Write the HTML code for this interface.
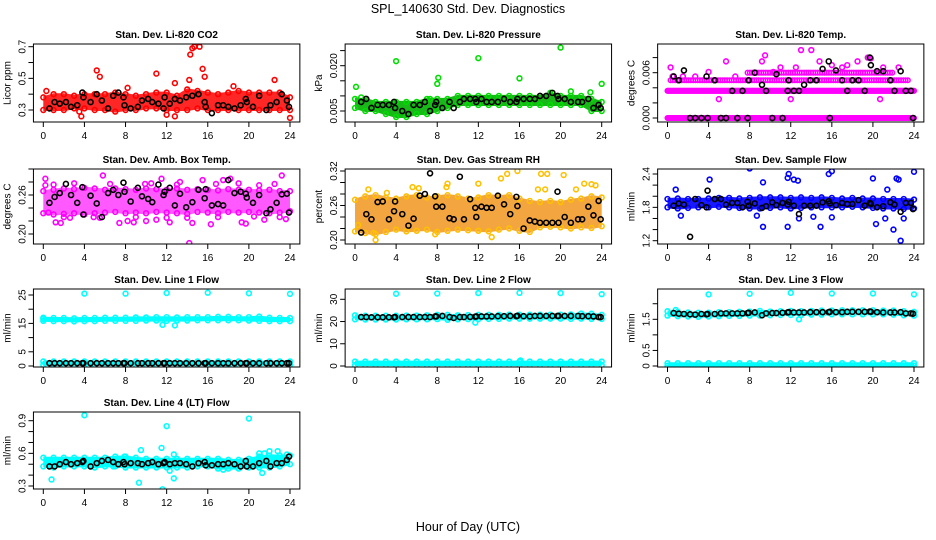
<!DOCTYPE html>
<html><head><meta charset="utf-8"><style>
html,body{margin:0;padding:0;background:#fff;}
svg{display:block;font-family:"Liberation Sans",sans-serif;}
</style></head><body>
<svg id="chart" width="936" height="540" viewBox="0 0 936 540">
<text x="468" y="13" text-anchor="middle" font-size="12.5">SPL_140630  Std. Dev. Diagnostics</text>
<text x="468" y="531" text-anchor="middle" font-size="12.5">Hour of Day (UTC)</text>
</svg>
<script>
// ---- data ----
const bandHours = [0,1,2,3,4,5,6,7,8,9,10,11,12,13,14,15,16,17,18,19,20,21,22,23,24];
const blackHours = [0.6,1.1,1.6,2.2,2.7,3.3,3.8,3.9,4.6,5.2,5.7,6.3,6.8,7.3,7.8,7.9,8.5,9.2,9.6,10.2,10.6,11.2,11.7,11.8,12.3,12.8,13.3,13.9,14.5,15.1,15.7,15.8,16.4,17.0,17.5,18.0,18.6,19.2,19.7,19.8,20.4,21.0,21.7,22.1,22.7,23.2,23.7,23.9];

const co2Lo = [0.30,0.30,0.30,0.31,0.31,0.30,0.30,0.29,0.30,0.30,0.31,0.31,0.30,0.30,0.30,0.31,0.30,0.30,0.30,0.30,0.30,0.30,0.30,0.30,0.30];
const co2Hi = [0.38,0.40,0.40,0.39,0.40,0.40,0.40,0.41,0.40,0.39,0.40,0.41,0.41,0.39,0.43,0.42,0.41,0.40,0.41,0.42,0.41,0.41,0.41,0.41,0.38];
const co2OutX = [5.2,5.5,11,12.8,14.3,14.5,14.7,15.2,15.5,15.7,14.2,22.5,3.7,24,12,12.8,18.5,8.2,0.3,3.5];
const co2OutY = [0.55,0.51,0.53,0.47,0.65,0.69,0.70,0.70,0.56,0.51,0.49,0.49,0.26,0.25,0.27,0.26,0.45,0.44,0.42,0.29];
const co2Black = [0.31,0.35,0.34,0.35,0.32,0.33,0.41,0.38,0.35,0.40,0.36,0.31,0.39,0.41,0.38,0.33,0.31,0.32,0.36,0.37,0.35,0.34,0.31,0.38,0.34,0.37,0.36,0.38,0.39,0.40,0.35,0.32,0.28,0.33,0.33,0.32,0.31,0.33,0.37,0.35,0.32,0.39,0.30,0.33,0.35,0.40,0.36,0.32];

const presLo = [0.006,0.005,0.005,0.004,0.003,0.003,0.004,0.004,0.005,0.006,0.007,0.007,0.007,0.007,0.007,0.007,0.007,0.007,0.007,0.007,0.007,0.007,0.007,0.005,0.005];
const presHi = [0.009,0.009,0.008,0.008,0.008,0.008,0.008,0.009,0.009,0.009,0.010,0.010,0.010,0.010,0.010,0.010,0.010,0.010,0.010,0.011,0.010,0.010,0.010,0.009,0.008];
const presOutX = [4,12,20,8.1,8,16,24,0.1,22.9,21,7.3,0.6];
const presOutY = [0.0215,0.0225,0.0260,0.0160,0.0140,0.0158,0.0140,0.0130,0.0112,0.0115,0.0090,0.0095];
const presBlack = [0.008,0.009,0.006,0.007,0.007,0.007,0.008,0.006,0.005,0.004,0.007,0.007,0.008,0.005,0.007,0.008,0.006,0.008,0.006,0.008,0.009,0.009,0.009,0.008,0.009,0.008,0.008,0.008,0.009,0.008,0.008,0.009,0.009,0.009,0.009,0.010,0.010,0.011,0.010,0.009,0.009,0.008,0.008,0.008,0.009,0.006,0.007,0.006];

const tempRowVal = [0,0.0036,0.0050,0.0060];
const tempRowStart = [0,0,0.3,7.8];
const tempRowEnd = [24,24,23.5,22];
const tempOutX = [0.3,5.7,9.2,9.5,13,14,14.8,19.5,19.8,5,12,20.7,0.5,4,1.5,11,12.5,17,17.5,18.5,16,21,22.5,6.6,10.3,2.7];
const tempOutY = [0.0067,0.0075,0.0075,0.0083,0.0090,0.0090,0.0075,0.0080,0.0079,0.0025,0.0025,0.0025,0.0055,0.0061,0.0055,0.0067,0.0067,0.0067,0.0070,0.0075,0.0070,0.0067,0.0067,0.0055,0.0061,0.0055];
const tempBlack = [0.0055,0.0050,0.0063,0,0,0,0.0055,0,0.0050,0,0,0.0036,0,0.0036,0,0.0050,0.0060,0.0044,0.0036,0,0.0058,0,0.0036,0.0050,0.0036,0.0036,0.0044,0.0050,0.0050,0.0065,0.0075,0,0.0063,0.0050,0.0036,0.0050,0.0050,0.0036,0.0080,0.0070,0.0062,0.0062,0.0050,0.0036,0.0062,0.0036,0.0036,0];

const ambLo = [0.232,0.230,0.231,0.232,0.230,0.232,0.233,0.234,0.232,0.233,0.232,0.234,0.233,0.232,0.231,0.234,0.233,0.232,0.234,0.233,0.234,0.233,0.232,0.233,0.235];
const ambHi = [0.266,0.268,0.270,0.269,0.271,0.270,0.268,0.270,0.269,0.268,0.270,0.269,0.268,0.270,0.268,0.269,0.268,0.267,0.269,0.268,0.268,0.267,0.268,0.266,0.266];
const ambOutX = [0.2,0.2,0.5,1.2,1.7,2.6,5.8,7.4,8.2,8.8,10,11,11.5,12.3,12,13.3,14.2,14.5,16.3,18.2,19.3,19.7,21.5,23.2,23.6,21,15.5,17.5,4.9,9.9,1.0,3.0,6.5,10.5,13.0,16.8,19.0,22.5,2.0,5.5,9.0,14.0,17.0,20.5,23.0];
const ambOutY = [0.285,0.275,0.233,0.218,0.217,0.225,0.290,0.217,0.220,0.218,0.220,0.222,0.285,0.218,0.225,0.280,0.186,0.217,0.215,0.285,0.218,0.216,0.222,0.290,0.223,0.275,0.283,0.283,0.226,0.277,0.276,0.278,0.277,0.278,0.276,0.277,0.278,0.277,0.226,0.225,0.226,0.225,0.226,0.227,0.226];
const ambBlack = [0.248,0.257,0.263,0.277,0.260,0.248,0.272,0.230,0.259,0.247,0.226,0.263,0.268,0.260,0.279,0.265,0.250,0.271,0.258,0.254,0.249,0.276,0.260,0.265,0.271,0.244,0.262,0.241,0.249,0.268,0.255,0.269,0.244,0.246,0.244,0.283,0.263,0.265,0.262,0.256,0.248,0.260,0.232,0.238,0.248,0.261,0.262,0.233];

const rhLo = [0.215,0.212,0.210,0.214,0.218,0.215,0.216,0.218,0.214,0.216,0.218,0.217,0.216,0.215,0.218,0.220,0.216,0.214,0.222,0.223,0.222,0.220,0.222,0.221,0.224];
const rhHi = [0.270,0.276,0.278,0.274,0.272,0.276,0.278,0.274,0.276,0.278,0.276,0.272,0.274,0.278,0.276,0.278,0.272,0.268,0.266,0.268,0.266,0.270,0.272,0.276,0.274];
const rhOutX = [2,7.8,13.3,15.8,18.1,18.7,20.3,14.2,14.8,9,8.9,12,22.3,23,23.4,1.3,5.6,6.2,17.8,18.5,21.5,0.3,3.1,1.8];
const rhOutY = [0.200,0.210,0.205,0.320,0.315,0.315,0.313,0.307,0.315,0.298,0.292,0.298,0.298,0.297,0.295,0.288,0.292,0.290,0.288,0.288,0.288,0.226,0.282,0.212];
const rhBlack = [0.213,0.245,0.236,0.266,0.267,0.236,0.250,0.267,0.245,0.225,0.237,0.277,0.280,0.316,0.276,0.258,0.258,0.238,0.236,0.310,0.236,0.271,0.256,0.240,0.258,0.256,0.256,0.277,0.262,0.245,0.275,0.259,0.220,0.234,0.232,0.230,0.230,0.230,0.284,0.230,0.240,0.230,0.236,0.236,0.258,0.243,0.268,0.236];

const flowLo = [1.80,1.78,1.79,1.80,1.80,1.81,1.80,1.79,1.78,1.78,1.79,1.80,1.78,1.79,1.80,1.80,1.80,1.80,1.81,1.80,1.79,1.78,1.78,1.77,1.78];
const flowHi = [1.95,1.96,1.95,1.95,1.96,1.97,1.97,1.96,1.97,1.98,1.98,1.98,1.97,1.98,1.97,1.98,1.97,1.96,1.97,1.96,1.96,1.95,1.95,1.95,1.94];
const flowOutX = [8,11.8,11.7,12.3,12.7,15.7,16,9.3,4.1,20,22.3,22.5,24,0.8,21.4,11.7,9.3,14.9,20.3,22,22.7,21.2,12.8,16,14.2,1.3,8.7,23];
const flowOutY = [2.50,2.40,2.33,2.30,2.28,2.40,2.45,2.25,2.30,2.32,2.32,2.30,2.44,2.12,2.12,1.45,1.45,1.45,1.50,1.40,1.20,1.60,1.60,1.62,1.63,1.65,1.65,1.60];
const flowBlack = [1.83,1.87,1.85,1.27,1.95,1.84,1.80,2.10,1.95,1.95,1.85,1.88,1.88,1.80,1.90,1.83,1.87,1.79,1.82,1.89,1.84,1.88,1.85,1.90,1.83,1.68,1.83,1.83,1.83,1.89,1.91,1.87,1.84,1.88,1.86,1.86,1.93,1.83,1.88,1.86,1.80,1.82,1.89,1.85,1.72,1.88,1.88,1.77];

const l1Lo = [15.9,15.8,15.8,15.7,15.8,15.8,15.9,15.9,15.9,15.9,16.0,16.0,15.9,16.0,16.0,16.1,16.1,16.1,16.1,16.1,16.0,15.9,15.8,15.8,15.8];
const l1Hi = [17.0,16.9,16.9,16.8,16.9,16.9,17.0,17.0,17.0,17.1,17.1,17.2,17.2,17.1,17.2,17.2,17.2,17.3,17.3,17.2,17.2,17.4,17.0,16.9,16.9];
const l1LowLo = [0.4,0.4,0.4,0.4,0.4,0.4,0.4,0.4,0.4,0.4,0.4,0.4,0.4,0.4,0.4,0.4,0.4,0.4,0.4,0.4,0.4,0.4,0.4,0.4,0.4];
const l1LowHi = [1.6,1.6,1.6,1.6,1.6,1.6,1.6,1.6,1.6,1.6,1.6,1.6,1.6,1.6,1.6,1.6,1.6,1.6,1.6,1.6,1.6,1.6,1.6,1.6,1.6];
const l1OutX = [4,8,12,16,20,24,11.6,12.8,0,0.2];
const l1OutY = [25.5,25.5,25.7,25.8,25.6,25.4,14.5,14.3,16.5,1.0];
const l1Black = [1.0,1.0,1.0,1.0,1.0,1.0,1.0,1.0,1.0,1.0,1.0,1.0,1.0,1.0,1.0,1.0,1.0,1.0,1.0,1.0,1.0,1.0,1.0,1.0,1.0,1.0,1.0,1.0,1.0,1.0,1.0,1.0,1.0,1.0,1.0,1.0,1.0,1.0,1.0,1.0,1.0,1.0,1.0,1.0,1.0,1.0,1.0,1.0];

const l2Lo = [21.0,20.9,20.9,20.9,20.9,21.0,21.0,21.0,21.1,20.8,21.0,21.1,21.1,21.2,21.2,21.3,21.3,21.3,21.3,21.3,21.3,21.2,21.3,21.2,21.2];
const l2Hi = [22.8,22.6,22.6,22.6,22.6,22.7,22.7,22.8,23.0,23.0,22.8,22.9,23.0,23.0,23.0,23.1,23.1,23.1,23.1,23.1,23.1,23.2,23.6,23.5,23.0];
const l2LowLo = [0.4,0.4,0.4,0.4,0.4,0.4,0.4,0.4,0.4,0.4,0.4,0.4,0.4,0.4,0.4,0.4,0.4,0.4,0.4,0.4,0.4,0.4,0.4,0.4,0.4];
const l2LowHi = [2.0,2.0,2.0,2.0,2.0,2.0,2.0,2.0,2.0,2.0,2.0,2.0,2.0,2.0,2.0,2.0,2.0,2.0,2.0,2.0,2.0,2.0,2.0,2.0,2.0];
const l2OutX = [4,8,12,16,20,24,11.7,16.1];
const l2OutY = [32.5,32.6,32.8,32.9,32.8,32.3,19.5,2.5];
const l2Black = [22.0,22.0,21.9,21.9,21.9,21.9,21.9,22.0,22.0,22.0,22.0,22.0,22.0,22.0,22.3,22.3,22.5,22.0,21.6,22.0,22.0,22.1,22.2,22.3,22.3,22.3,22.3,22.4,22.4,22.5,22.4,22.6,22.4,22.3,22.5,22.5,22.5,22.5,22.5,22.5,22.5,22.5,22.5,22.4,22.4,22.3,22.0,22.0];

const l3Lo = [1.62,1.60,1.59,1.58,1.59,1.60,1.61,1.61,1.62,1.62,1.63,1.64,1.64,1.64,1.65,1.65,1.66,1.66,1.66,1.66,1.66,1.66,1.65,1.63,1.62];
const l3Hi = [1.76,1.74,1.72,1.71,1.71,1.73,1.73,1.74,1.75,1.77,1.75,1.76,1.77,1.76,1.77,1.78,1.78,1.79,1.79,1.79,1.79,1.78,1.78,1.76,1.74];
const l3LowLo = [0.01,0.01,0.01,0.01,0.01,0.01,0.01,0.01,0.01,0.01,0.01,0.01,0.01,0.01,0.01,0.01,0.01,0.01,0.01,0.01,0.01,0.01,0.01,0.01,0.01];
const l3LowHi = [0.09,0.09,0.09,0.09,0.09,0.09,0.09,0.09,0.09,0.09,0.09,0.09,0.09,0.09,0.09,0.09,0.09,0.09,0.09,0.09,0.09,0.09,0.09,0.09,0.09];
const l3OutX = [4,8,12,16,20,24,12.8,0.8];
const l3OutY = [2.30,2.32,2.35,2.33,2.33,2.30,1.50,1.80];
const l3Black = [1.70,1.68,1.67,1.66,1.65,1.67,1.66,1.67,1.67,1.69,1.69,1.69,1.69,1.69,1.70,1.71,1.72,1.63,1.69,1.70,1.70,1.71,1.72,1.73,1.72,1.72,1.72,1.73,1.73,1.73,1.73,1.74,1.73,1.73,1.74,1.74,1.74,1.74,1.75,1.74,1.73,1.72,1.72,1.72,1.73,1.69,1.69,1.68];

const l4Lo = [0.48,0.47,0.48,0.48,0.48,0.47,0.48,0.48,0.47,0.47,0.47,0.47,0.47,0.47,0.47,0.48,0.48,0.46,0.46,0.46,0.47,0.47,0.47,0.48,0.50];
const l4Hi = [0.56,0.56,0.56,0.56,0.56,0.56,0.56,0.57,0.57,0.56,0.55,0.55,0.55,0.55,0.55,0.55,0.55,0.55,0.54,0.54,0.55,0.57,0.58,0.58,0.58];
const l4OutX = [4,0.8,9.3,9.5,11.5,11.6,12,12.3,12.7,12.7,20,21.3,21,21.5,22,22.8,23.7,17.5,6.8,7.9];
const l4OutY = [0.95,0.36,0.33,0.63,0.65,0.27,0.85,0.44,0.59,0.37,0.92,0.42,0.60,0.60,0.62,0.62,0.59,0.45,0.48,0.57];
const l4Black = [0.48,0.48,0.50,0.52,0.50,0.51,0.52,0.53,0.48,0.51,0.53,0.54,0.52,0.50,0.52,0.50,0.51,0.51,0.50,0.51,0.52,0.50,0.51,0.52,0.50,0.51,0.51,0.50,0.48,0.51,0.52,0.49,0.49,0.50,0.50,0.51,0.50,0.48,0.53,0.48,0.48,0.51,0.53,0.48,0.51,0.51,0.54,0.57];

// ---- layout (pixels) ----
const NS = 'http://www.w3.org/2000/svg';
const svg = document.getElementById('chart');
function mk(tag, attrs, parent){
  const e = document.createElementNS(NS, tag);
  for (const k in attrs) e.setAttribute(k, attrs[k]);
  (parent||svg).appendChild(e);
  return e;
}
const colX = [[43.3,290],[355,601.7],[667.5,914]];
const rowY = [[44,122],[169,244],[289,367],[412,489]];

function drawPanel(p){
  const g = mk('g', {});
  
  
  const [x0, x24] = colX[p.col];
  const sx = (x24 - x0) / 24;
  const X = h => x0 + h * sx;
  const Y = v => p.p1 + (v - p.v1) * (p.p2 - p.p1) / (p.v2 - p.v1);
  const [top, bot] = rowY[p.row];
  const left = x0 - 0.96 * sx, right = x24 + 0.96 * sx;
  const clipId = 'clip-' + p.name;
  const cp = mk('clipPath', {id: clipId}, g);
  mk('rect', {x:left, y:top, width:right-left, height:bot-top}, cp);
  const plot = mk('g', {'clip-path':'url(#'+clipId+')'}, g);
  // bands
  (p.bands||[]).forEach((b, bi) => {
    let d = '';
    bandHours.forEach((h, i) => { d += (i ? 'L' : 'M') + X(h).toFixed(1) + ',' + (Y(b[1][i]) - 1).toFixed(1); });
    for (let i = bandHours.length - 1; i >= 0; i--) d += 'L' + X(bandHours[i]).toFixed(1) + ',' + (Y(b[0][i]) + 1).toFixed(1);
    const path = mk('path', {d: d + 'Z', fill: p.fill || p.color, 'fill-opacity': p.op || 1, stroke: 'none'}, plot);
    
    
    // edge circles for texture
    bandHours.forEach((h, i) => {
      [b[0][i], b[1][i]].forEach(v => {
        const c = mk('circle', {cx: X(h), cy: Y(v), r: 2.4, fill: 'none', stroke: p.color, 'stroke-width': 1.6}, plot);
        
        
      });
    });
  });
  if (p.rows) {
    p.rows[0].forEach((v, i) => {
      for (let h = p.rows[1][i]; h <= p.rows[2][i] + 1e-6; h += (i < 2 ? 0.08 : 0.22)) {
        const c = mk('circle', {cx: X(h), cy: Y(v), r: 2.3, fill: 'none', stroke: p.color, 'stroke-width': 1.5}, plot);
        
        
      }
    });
  }
  p.outX.forEach((h, i) => {
    const c = mk('circle', {cx: X(h), cy: Y(p.outY[i]), r: 2.4, fill: 'none', stroke: p.color, 'stroke-width': 1.6}, plot);
    
    
  });
  p.black.forEach((v, i) => {
    const c = mk('circle', {cx: X(blackHours[i]), cy: Y(v), r: 2.5, fill: 'none', stroke: '#000', 'stroke-width': 1.6}, plot);
    
    
  });
  const box = mk('rect', {x:left, y:top, width:right-left, height:bot-top, fill:'none', stroke:'#000', 'stroke-width':1}, g);
  
  
  [0,4,8,12,16,20,24].forEach(h => {
    mk('line', {x1:X(h), x2:X(h), y1:bot, y2:bot+5, stroke:'#000'}, g);
    const t = mk('text', {x:X(h), y:bot+17, 'text-anchor':'middle', 'font-size':10}, g);
    t.textContent = h;
    
    
  });
  p.ticks.forEach(v => mk('line', {x1:left-5, x2:left, y1:Y(v), y2:Y(v), stroke:'#000'}, g));
  p.labels.forEach(v => {
    const ly = Y(v), lx = left - 8;
    const t = mk('text', {x:lx, y:ly, transform:'rotate(-90 '+lx+' '+ly+')', 'text-anchor':'middle', 'font-size':10}, g);
    t.textContent = p.fmt ? p.fmt(v) : String(v);
    
    
  });
  const yt = left - 23, ym = (top + bot) / 2;
  const ylab = mk('text', {x:yt, y:ym, transform:'rotate(-90 '+yt+' '+ym+')', 'text-anchor':'middle', 'font-size':10}, g);
  ylab.textContent = p.ylab;
  
  
  const tt = mk('text', {x:(left+right)/2, y:top-6, 'text-anchor':'middle', 'font-size':10, 'font-weight':'bold'}, g);
  tt.textContent = p.title;
  
  
}

const f3 = v => v.toFixed(3), f2 = v => v.toFixed(2), f1 = v => v.toFixed(1);
drawPanel({name:'panel-co2', title:'Stan. Dev. Li-820 CO2', ylab:'Licor ppm', col:0, row:0, v1:0.3, p1:110, v2:0.7, p2:46.7,
  ticks:[0.3,0.4,0.5,0.6,0.7], labels:[0.3,0.5,0.7], fmt:f1, color:'#ff0000', op:0.85, bands:[[co2Lo,co2Hi]], outX:co2OutX, outY:co2OutY, black:co2Black});
drawPanel({name:'panel-pressure', title:'Stan. Dev. Li-820 Pressure', ylab:'kPa', col:1, row:0, v1:0.005, p1:111, v2:0.020, p2:65.7,
  ticks:[0.005,0.010,0.015,0.020,0.025], labels:[0.005,0.020], fmt:f3, color:'#00dd00', fill:'#18b818', bands:[[presLo,presHi]], outX:presOutX, outY:presOutY, black:presBlack});
drawPanel({name:'panel-temp', title:'Stan. Dev. Li-820 Temp.', ylab:'degrees C', col:2, row:0, v1:0, p1:118, v2:0.006, p2:72.7,
  ticks:[0,0.002,0.004,0.006,0.008], labels:[0,0.006], fmt:f3, color:'#ff00ff', rows:[tempRowVal,tempRowStart,tempRowEnd], outX:tempOutX, outY:tempOutY, black:tempBlack});
drawPanel({name:'panel-ambbox', title:'Stan. Dev. Amb. Box Temp.', ylab:'degrees C', col:0, row:1, v1:0.20, p1:234, v2:0.26, p2:195,
  ticks:[0.20,0.22,0.24,0.26,0.28,0.30], labels:[0.20,0.26], fmt:f2, color:'#ff00ff', op:0.65, bands:[[ambLo,ambHi]], outX:ambOutX, outY:ambOutY, black:ambBlack});
drawPanel({name:'panel-rh', title:'Stan. Dev. Gas Stream RH', ylab:'percent', col:1, row:1, v1:0.20, p1:240, v2:0.32, p2:171,
  ticks:[0.20,0.22,0.24,0.26,0.28,0.30,0.32], labels:[0.20,0.26,0.32], fmt:f2, color:'#ffc000', fill:'#f09010', op:0.8, bands:[[rhLo,rhHi]], outX:rhOutX, outY:rhOutY, black:rhBlack});
drawPanel({name:'panel-sampleflow', title:'Stan. Dev. Sample Flow', ylab:'ml/min', col:2, row:1, v1:1.2, p1:240.7, v2:2.4, p2:174,
  ticks:[1.2,1.4,1.6,1.8,2.0,2.2,2.4], labels:[1.2,1.8,2.4], fmt:f1, color:'#0000ff', op:0.9, bands:[[flowLo,flowHi]], outX:flowOutX, outY:flowOutY, black:flowBlack});
drawPanel({name:'panel-line1', title:'Stan. Dev. Line 1 Flow', ylab:'ml/min', col:0, row:2, v1:0, p1:366, v2:25, p2:295,
  ticks:[0,5,10,15,20,25], labels:[0,5,15,25], color:'#00ffff', bands:[[l1Lo,l1Hi],[l1LowLo,l1LowHi]], outX:l1OutX, outY:l1OutY, black:l1Black});
drawPanel({name:'panel-line2', title:'Stan. Dev. Line 2 Flow', ylab:'ml/min', col:1, row:2, v1:0, p1:366, v2:30, p2:299.3,
  ticks:[0,10,20,30], labels:[0,10,20,30], color:'#00ffff', bands:[[l2Lo,l2Hi],[l2LowLo,l2LowHi]], outX:l2OutX, outY:l2OutY, black:l2Black});
drawPanel({name:'panel-line3', title:'Stan. Dev. Line 3 Flow', ylab:'ml/min', col:2, row:2, v1:0, p1:366, v2:1.5, p2:319.3,
  ticks:[0,0.5,1.0,1.5,2.0], labels:[0,0.5,1.5], fmt:v => v === 0 ? '0' : v.toFixed(1), color:'#00ffff', bands:[[l3Lo,l3Hi],[l3LowLo,l3LowHi]], outX:l3OutX, outY:l3OutY, black:l3Black});
drawPanel({name:'panel-line4', title:'Stan. Dev. Line 4 (LT) Flow', ylab:'ml/min', col:0, row:3, v1:0.3, p1:486, v2:0.9, p2:420.7,
  ticks:[0.3,0.4,0.5,0.6,0.7,0.8,0.9], labels:[0.3,0.6,0.9], fmt:f1, color:'#00ffff', bands:[[l4Lo,l4Hi]], outX:l4OutX, outY:l4OutY, black:l4Black});
</script>
</body></html>
